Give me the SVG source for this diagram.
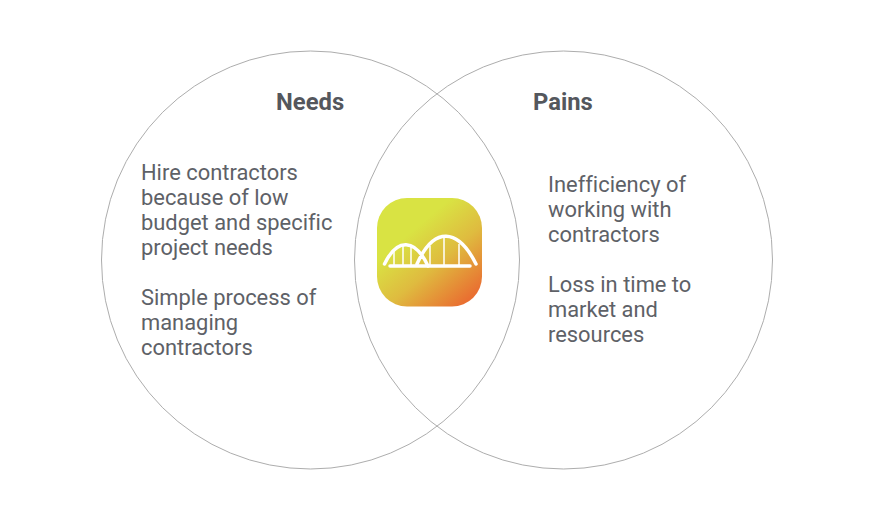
<svg xmlns="http://www.w3.org/2000/svg" width="885" height="512" viewBox="0 0 885 512">
<style>
.c{fill:none;stroke:#adadad;stroke-width:1}
.t{font-family:Roboto,sans-serif;font-size:21.9px;fill:#5e6167;font-variant-ligatures:none}
.h{font-family:Roboto,sans-serif;font-size:23.8px;font-weight:700;fill:#54575d}
.b{fill:none;stroke:#fff;stroke-width:3.500;stroke-linecap:round}
.v{fill:none;stroke:#fff;stroke-width:1.500}
</style>
<defs><linearGradient id="g" x1="0.15" y1="0.1" x2="0.85" y2="0.95"><stop offset="0.25" stop-color="#d9e343"/><stop offset="0.6" stop-color="#dfbb3f"/><stop offset="1" stop-color="#e96f31"/></linearGradient></defs>
<rect width="885" height="512" fill="#fff"/>
<g id="connectors"></g>
<g id="needs"><circle class="c" cx="310.500" cy="260" r="209"/>
<text class="h" x="276" y="110">Needs</text>
<text class="t" x="141" y="180">Hire contractors</text>
<text class="t" x="141" y="205">because of low</text>
<text class="t" x="141" y="230">budget and specific</text>
<text class="t" x="141" y="255">project needs</text>
<text class="t" x="141" y="305">Simple process of</text>
<text class="t" x="141" y="330">managing</text>
<text class="t" x="141" y="355">contractors</text></g>
<g id="pains"><circle class="c" cx="563.500" cy="260" r="209"/>
<text class="h" x="533" y="110">Pains</text>
<text class="t" x="548" y="192">Inefficiency of</text>
<text class="t" x="548" y="217">working with</text>
<text class="t" x="548" y="242">contractors</text>
<text class="t" x="548" y="292">Loss in time to</text>
<text class="t" x="548" y="317">market and</text>
<text class="t" x="548" y="342">resources</text></g>
<g id="logo"><rect x="377" y="198" width="105" height="108.500" rx="30" fill="url(#g)"/>
<path class="v" d="M394 265V251M403 265V246M411 265V247M430 265V246M444 265V238M459 265V244"/>
<path class="b" d="M384.500 264C397 238 415 238 428 266M417 264C434 226 458 228 476 264"/>
<path class="b" d="M390 266H470"/></g>
</svg>
